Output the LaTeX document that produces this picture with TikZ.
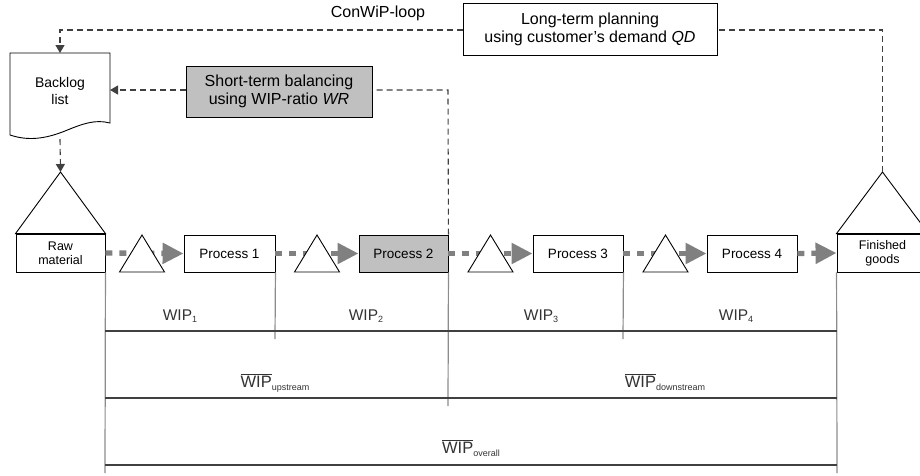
\documentclass[tikz,border=0pt]{standalone}
\usepackage{fontspec}
\setmainfont{Liberation Sans}
\usetikzlibrary{arrows.meta}
\definecolor{flowgray}{HTML}{808080}
\definecolor{dgray}{HTML}{404040}
\definecolor{vgray}{HTML}{8C8C8C}
\definecolor{boxgray}{HTML}{C0C0C0}
\definecolor{wiptext}{HTML}{333333}
\tikzset{
  box/.style={draw=black, line width=0.9pt, fill=white, inner sep=0pt, align=center},
  procbox/.style={box, minimum height=37pt, font=\fontsize{13.5}{15}\selectfont},
  stockbox/.style={box, minimum height=38pt, font=\fontsize{12.5}{14}\selectfont},
  ctrlbox/.style={box, font=\fontsize{16}{18}\selectfont},
  tri/.style={draw=black, line width=0.9pt, fill=white, line join=miter},
  flow/.style={draw=flowgray, line width=5.3pt, dash pattern=on 7pt off 7pt,
    -{Triangle[length=21pt,width=20pt,fill=flowgray]}},
  ctrl/.style={draw=dgray, line width=1.1pt, dash pattern=on 6pt off 4pt},
  ctrlarrow/.style={ctrl, -{Triangle[length=8pt,width=9pt,fill=dgray]}},
  vline/.style={draw=vgray, line width=1.2pt},
  hline/.style={draw=dgray, line width=1.1pt},
  wip/.style={text=wiptext, font=\fontsize{15.5}{17}\selectfont, anchor=base, inner sep=0pt},
  wipbar/.style={text=wiptext, font=\fontsize{16.5}{18}\selectfont, anchor=base, inner sep=0pt},
}
\newcommand{\wipsub}[1]{WIP\raisebox{-2pt}{\fontsize{9}{9}\selectfont #1}}
\newcommand{\wipbarsub}[1]{$\overline{\mbox{WIP}}$\raisebox{-3pt}{\fontsize{9}{9}\selectfont #1}}
\begin{document}
\begin{tikzpicture}[x=1pt,y=-1pt]
\useasboundingbox (0,0) rectangle (920,475);
\clip (0,0) rectangle (920,475);

% process boxes and stocks
\node[stockbox, minimum width=89pt] (raw) at (60.5,253) {Raw\\material};
\node[procbox, minimum width=91pt] (p1) at (229.5,253.5) {Process 1};
\node[procbox, minimum width=89pt, fill=boxgray] (p2) at (403.5,253.5) {Process 2};
\node[procbox, minimum width=90pt] (p3) at (578,253.5) {Process 3};
\node[procbox, minimum width=90pt] (p4) at (752,253.5) {Process 4};
\node[stockbox, minimum width=91pt] (fin) at (882.5,253) {Finished\\goods};

% big triangles
\coordinate (rawtop) at (60.5,172);
\coordinate (fintop) at (882.5,172);
\draw[tri] (raw.north west) -- (rawtop) -- (raw.north east) -- cycle;
\draw[tri] (fin.north west) -- (fintop) -- (fin.north east) -- cycle;

% flow arrows
\draw[flow] (raw.east) -- (p1.west);
\draw[flow] (p1.east) -- (p2.west);
\draw[flow] (p2.east) -- (p3.west);
\draw[flow] (p3.east) -- (p4.west);
\draw[flow] (p4.east) -- (fin.west);

% small buffer triangles
\foreach \x/\n in {142/t1, 317/t2, 490.5/t3, 665.5/t4}{
  \draw[tri] (\x-22.5,272) -- (\x,235) -- (\x+22.5,272) -- cycle;
}

% backlog document
\node[font=\fontsize{14}{17}\selectfont, align=center, inner sep=0pt] (backlog) at (60,91) {Backlog\\list};
\coordinate (bltop) at (60,53);
\coordinate (blright) at (110,90);
\coordinate (blbottom) at (60,139);
\draw[black, line width=0.9pt, fill=white] (10,53) -- (110,53) -- (110,123)
  .. controls (95,119) and (82,124) .. (65,131)
  .. controls (45,139) and (28,141) .. (10,135) -- cycle;
\node[font=\fontsize{14}{17}\selectfont, align=center, inner sep=0pt] at (backlog) {Backlog\\list};

% control boxes
\node[ctrlbox, minimum width=254pt, minimum height=52pt] (long) at (590,29) {Long-term planning\\using customer's demand \textit{QD}};
\node[ctrlbox, minimum width=186pt, minimum height=51pt, fill=boxgray] (short) at (279,91.5) {Short-term balancing\\using WIP-ratio \textit{WR}};
\node[font=\fontsize{16}{18}\selectfont, anchor=base, inner sep=0pt] (conwip) at (378,17) {ConWiP-loop};

% control loops
\coordinate (lc1) at (882.5,30);
\coordinate (lc2) at (60,30);
\draw[ctrl] (fintop) -- (lc1) -- (long.east |- lc1);
\draw[ctrlarrow] (long.west |- lc1) -- (lc2) -- (bltop);
\coordinate (sc1) at (448,90);
\draw[ctrl] (p2.north east) -- (sc1) -- (short.east |- sc1);
\draw[ctrlarrow] (short.west |- sc1) -- (blright);
\draw[ctrlarrow] (blbottom) -- (rawtop);

% WIP measurement lines
\coordinate (v0) at (105,473);
\coordinate (v1) at (275,339);
\coordinate (v2) at (448,406);
\coordinate (v3) at (623,339);
\coordinate (v4) at (837,473);
\draw[vline] (raw.south east) -- (v0);
\draw[vline] (p1.south east) -- (v1);
\draw[vline] (p2.south east) -- (v2);
\draw[vline] (p3.south east) -- (v3);
\draw[vline] (fin.south west) -- (v4);
\coordinate (h1a) at (105,331); \coordinate (h1b) at (837,331);
\coordinate (h2a) at (105,398); \coordinate (h2b) at (837,398);
\coordinate (h3a) at (105,465); \coordinate (h3b) at (837,465);
\draw[hline] (h1a) -- (h1b);
\draw[hline] (h2a) -- (h2b);
\draw[hline] (h3a) -- (h3b);

% WIP labels
\node[wip] (w1) at (180,320) {\wipsub{1}};
\node[wip] (w2) at (366,320) {\wipsub{2}};
\node[wip] (w3) at (541,320) {\wipsub{3}};
\node[wip] (w4) at (736,320) {\wipsub{4}};
\node[wipbar] (wup) at (275,387) {\wipbarsub{upstream}};
\node[wipbar] (wdown) at (665,387) {\wipbarsub{downstream}};
\node[wipbar] (wall) at (471,453) {\wipbarsub{overall}};
\end{tikzpicture}
\end{document}
